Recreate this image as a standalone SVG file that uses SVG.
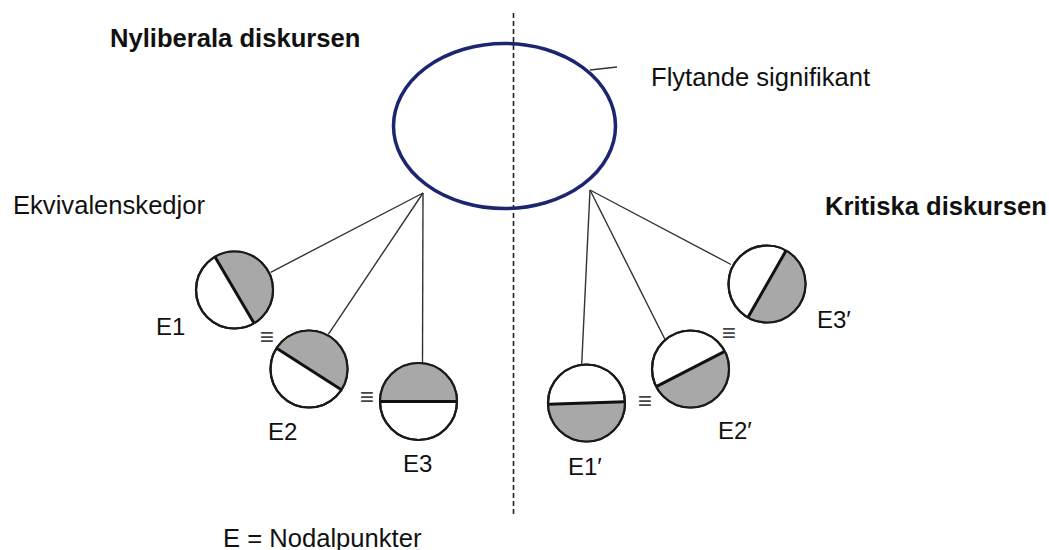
<svg xmlns="http://www.w3.org/2000/svg" width="1049" height="550" viewBox="0 0 1049 550">
<style>
text{font-family:"Liberation Sans",Arial,sans-serif;fill:#111}
.t{font-size:25.6px;font-weight:bold}
.l{font-size:25.6px}
.e{font-size:24px}
.eq{font-size:24px;fill:#444}
.c{fill:#fff;stroke:#1a1a1a;stroke-width:2.2}
.h{fill:#a8a8a8;stroke:none}
.d{stroke:#111;stroke-width:3}
.cn line{stroke:#333;stroke-width:1.4}
</style>
<defs>
<path id="half" d="M-38 0A38 38 0 0 1 38 0Z"/>
</defs>
<rect width="1049" height="550" fill="#fff"/>
<line x1="513.5" y1="13" x2="513.5" y2="516" stroke="#222" stroke-width="1.6" stroke-dasharray="5 3"/>
<g id="signifikant">
<ellipse cx="504.5" cy="126" rx="111" ry="82.5" fill="none" stroke="#1c2570" stroke-width="3.5"/>
<line x1="590" y1="70" x2="617" y2="67" stroke="#333" stroke-width="1.5"/>
<text class="l" x="651" y="86">Flytande signifikant</text>
</g>
<text class="t" x="110" y="47">Nyliberala diskursen</text>
<text class="t" x="825" y="215">Kritiska diskursen</text>
<text class="l" x="13" y="214">Ekvivalenskedjor</text>
<text class="l" x="223" y="547">E = Nodalpunkter</text>
<g class="cn" id="connectors">
<line x1="423" y1="193" x2="270.7" y2="272.3"/>
<line x1="423" y1="193" x2="328.3" y2="334.3"/>
<line x1="423" y1="193" x2="422.5" y2="363"/>
<line x1="590" y1="190" x2="581.7" y2="364.5"/>
<line x1="590" y1="190" x2="665" y2="339.5"/>
<line x1="590" y1="190" x2="731" y2="264.5"/>
</g>
<g id="E1" transform="translate(234.5 290)">
<circle class="c" r="38.5"/>
<use href="#half" class="h" transform="rotate(59.5)"/>
<line class="d" x1="-38" y1="0" x2="38" y2="0" transform="rotate(59.5)"/>
<circle r="38.5" fill="none" stroke="#1a1a1a" stroke-width="2.2"/>
</g>
<g id="E2" transform="translate(309 369)">
<circle class="c" r="38.5"/>
<use href="#half" class="h" transform="rotate(32.7)"/>
<line class="d" x1="-38" y1="0" x2="38" y2="0" transform="rotate(32.7)"/>
<circle r="38.5" fill="none" stroke="#1a1a1a" stroke-width="2.2"/>
</g>
<g id="E3" transform="translate(418.5 401.5)">
<circle class="c" r="38.5"/>
<use href="#half" class="h"/>
<line class="d" x1="-38" y1="0" x2="38" y2="0"/>
<circle r="38.5" fill="none" stroke="#1a1a1a" stroke-width="2.2"/>
</g>
<g id="E1p" transform="translate(586.5 403)">
<circle class="c" r="38.5"/>
<use href="#half" class="h" transform="rotate(178)"/>
<line class="d" x1="-38" y1="0" x2="38" y2="0" transform="rotate(178)"/>
<circle r="38.5" fill="none" stroke="#1a1a1a" stroke-width="2.2"/>
</g>
<g id="E2p" transform="translate(690.5 369)">
<circle class="c" r="38.5"/>
<use href="#half" class="h" transform="rotate(152.8)"/>
<line class="d" x1="-38" y1="0" x2="38" y2="0" transform="rotate(152.8)"/>
<circle r="38.5" fill="none" stroke="#1a1a1a" stroke-width="2.2"/>
</g>
<g id="E3p" transform="translate(767 284)">
<circle class="c" r="38.5"/>
<use href="#half" class="h" transform="rotate(119.7)"/>
<line class="d" x1="-38" y1="0" x2="38" y2="0" transform="rotate(119.7)"/>
<circle r="38.5" fill="none" stroke="#1a1a1a" stroke-width="2.2"/>
</g>
<g id="labels">
<text class="e" x="156" y="335">E1</text>
<text class="e" x="268" y="440">E2</text>
<text class="e" x="403" y="472">E3</text>
<text class="e" x="568" y="475">E1′</text>
<text class="e" x="718" y="439">E2′</text>
<text class="e" x="817" y="328">E3′</text>
</g>
<g id="equiv" text-anchor="middle">
<text class="eq" x="267" y="345">≡</text>
<text class="eq" x="367" y="405">≡</text>
<text class="eq" x="729" y="341">≡</text>
<text class="eq" x="645" y="409">≡</text>
</g>
</svg>
